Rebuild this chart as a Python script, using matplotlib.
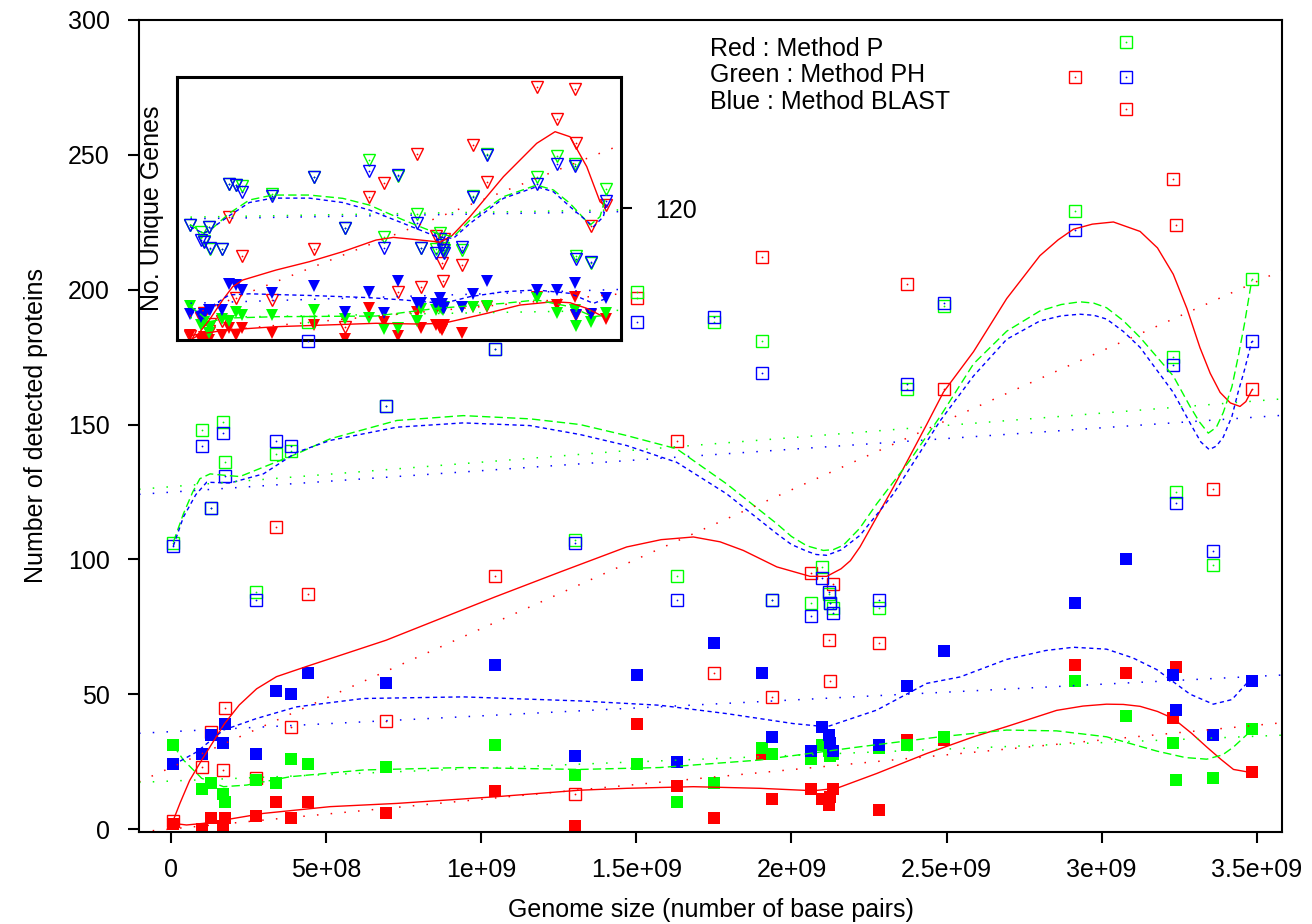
import matplotlib
matplotlib.use("Agg")
import matplotlib.pyplot as plt
import numpy as np

plt.rcParams["font.family"] = ["Liberation Sans", "DejaVu Sans"]
plt.rcParams["font.size"] = 18

GBP = 1e9
nan = np.nan

# genome sizes, in 1e9 base pairs
genome_size = [0.0075, 0.099, 0.128, 0.168, 0.174, 0.273, 0.337, 0.388, 0.440, 0.693,
               1.043, 1.302, 1.502, 1.632, 1.751, 1.905, 1.937, 2.062, 2.100, 2.120,
               2.124, 2.133, 2.281, 2.372, 2.492, 2.914, 3.079, 3.230, 3.240, 3.360, 3.484]

# main plot: detected proteins (open squares = upper set, filled squares = lower set)
p_open = [3, 23, 36, 22, 45, 19, 112, 38, 87, 40, 94, 13, 197, 144, 58, 212, 49, 95, nan, 70,
          55, 91, 69, 202, 163, 279, 267, 241, 224, 126, 163]
ph_open = [106, 148, 119, 151, 136, 88, 139, 140, 188, 157, 178, 107, 199, 94, 188, 181, 85, 84, 97, 87,
           84, 82, 82, 163, 194, 229, 292, 175, 125, 98, 204]
blast_open = [105, 142, 119, 147, 131, 85, 144, 142, 181, 157, 178, 106, 188, 85, 190, 169, 85, 79, 93, 88,
              84, 80, 85, 165, 195, 222, 279, 172, 121, 103, 181]
p_filled = [2, 0, 4, 1, 4, 5, 10, 4, 10, 6, 14, 1, 39, 16, 4, 28, 11, 15, 11, 9,
            12, 15, 7, 33, 33, 61, 58, 41, 60, 35, 21]
ph_filled = [31, 15, 17, 13, 10, 18, 17, 26, 24, 23, 31, 20, 24, 10, 17, 30, 28, 26, 31, 29,
             27, 28, 30, 31, 34, 55, 42, 32, 18, 19, 37]
blast_filled = [24, 28, 35, 32, 39, 28, 51, 50, 58, 54, 61, 27, 57, 25, 69, 58, 34, 29, 38, 35,
                32, 29, 31, 53, 66, 84, 100, 57, 44, 35, 55]

# smoothed curves
p_open_curve_x = [0.0075, 0.029, 0.06, 0.099, 0.172, 0.22, 0.276, 0.34, 0.44, 0.693, 1.043, 1.254, 1.469,
                  1.58, 1.684, 1.77, 1.845, 1.953, 2.06, 2.114, 2.16, 2.19, 2.221, 2.329, 2.436, 2.49, 2.587,
                  2.694, 2.801, 2.86, 2.909, 2.97, 3.038, 3.124, 3.18, 3.231, 3.275, 3.317, 3.35, 3.382,
                  3.415, 3.446, 3.465, 3.484]
p_open_curve_y = [3.3, 9.6, 18, 25.6, 39, 46, 52, 56.5, 60.4, 70, 86, 95.3, 104.6,
                  107.3, 108.3, 106.5, 103.3, 97.2, 93.7, 93.7, 96.5, 99.5, 104.6, 126.8, 150, 162, 177,
                  196.7, 212.6, 218.5, 222.4, 224.3, 225.1, 221.6, 215.5, 205.7, 193, 178.5, 169, 161.9,
                  158, 156.7, 158.5, 162.7]
ph_open_curve_x = [0.0075, 0.04, 0.07, 0.093, 0.126, 0.17, 0.222, 0.298, 0.405, 0.513, 0.728, 0.942, 1.157,
                   1.318, 1.469, 1.63, 1.791, 1.953, 2.0, 2.05, 2.103, 2.135, 2.167, 2.22, 2.275, 2.382,
                   2.479, 2.587, 2.694, 2.801, 2.87, 2.93, 2.975, 3.016, 3.07, 3.124, 3.231, 3.285, 3.315,
                   3.344, 3.37, 3.392, 3.42, 3.44, 3.46, 3.484]
ph_open_curve_y = [106.4, 116.9, 125, 129.9, 131.7, 131.2, 130.7, 134.2, 139.1, 144.7, 151.5, 153.3, 152.1,
                   150, 145.9, 141, 128, 113.2, 108.5, 105, 103.3, 103.6, 105.2, 111.5, 120.6, 136.7,
                   152.9, 172.5, 184.6, 192.1, 194.5, 195.5, 195, 193.3, 188.5, 182.3, 168, 156.7, 151,
                   146.8, 149, 154.4, 164, 175, 187, 203.5]
blast_open_curve_x = [0.0075, 0.04, 0.08, 0.115, 0.19, 0.298, 0.405, 0.513, 0.728, 0.942, 1.157, 1.318,
                      1.469, 1.63, 1.791, 1.953, 2.0, 2.05, 2.08, 2.114, 2.16, 2.221, 2.329, 2.479, 2.587,
                      2.694, 2.801, 2.87, 2.93, 2.975, 3.016, 3.07, 3.124, 3.231, 3.296, 3.32, 3.347, 3.37,
                      3.392, 3.42, 3.44, 3.46, 3.484]
blast_open_curve_y = [105, 115.7, 124, 128.6, 128.3, 131.7, 139.7, 144.1, 149, 150.6, 149.6, 146.3,
                      142.2, 136, 124.3, 109.5, 105.5, 103, 101.8, 101.5, 103.5, 108.9, 124.3, 151.3, 168,
                      181.6, 188.4, 190.3, 190.9, 190.5, 189.1, 184.5, 178.6, 161.9, 148.3, 143.5, 140.7, 142,
                      145.3, 153, 162, 170, 180.8]
p_filled_curve_x = [0.0075, 0.05, 0.104, 0.169, 0.298, 0.513, 0.728, 1.05, 1.318, 1.469, 1.684, 1.899,
                    2.071, 2.146, 2.275, 2.436, 2.587, 2.694, 2.855, 2.94, 3.016, 3.07, 3.124, 3.18, 3.231,
                    3.29, 3.339, 3.385, 3.425, 3.484]
p_filled_curve_y = [2.1, 1.5, 2.1, 3.3, 5.8, 8.3, 9.5, 12, 14.4, 15.1, 15.7, 15.1,
                    14.2, 15.1, 20.6, 28, 34.2, 38, 44, 45.6, 46.3, 46.2, 45.5, 43.6, 41, 35.5, 30.4, 25.8,
                    22.1, 20.9]
ph_filled_curve_x = [0.0075, 0.04, 0.099, 0.169, 0.244, 0.384, 0.62, 0.942, 1.318, 1.576, 1.899, 2.221,
                     2.479, 2.694, 2.855, 3.016, 3.178, 3.27, 3.339, 3.39, 3.425, 3.484]
ph_filled_curve_y = [31, 25.6, 18.8, 15.7, 16.3, 19.4, 21.9, 22.8, 22.1, 22.8, 25.6, 30.5,
                     34.2, 36.7, 36.4, 34.2, 28.9, 26.5, 25.9, 27.5, 30.4, 36.7]
blast_filled_curve_x = [0.0075, 0.083, 0.169, 0.276, 0.405, 0.62, 0.942, 1.318, 1.576, 1.791, 2.006, 2.114,
                        2.275, 2.436, 2.544, 2.694, 2.82, 2.909, 3.016, 3.1, 3.178, 3.285, 3.36, 3.42, 3.484]
blast_filled_curve_y = [23.8, 28.6, 36.7, 41, 45.3, 48.4, 49, 47.5, 45.9, 42.8, 39.1, 37.9,
                        44.1, 54, 56.4, 62.9, 66.2, 67.4, 66.7, 63.5, 59.1, 50, 46.3, 48, 56.1]

# straight trend lines (value at left and right edge of the plot)
trend_x = [-0.1032, 3.5815]
p_open_trend = [17.5, 207.2]
ph_open_trend = [126.0, 159.5]
blast_open_trend = [124.1, 153.4]
p_filled_trend = [-1.1, 39.4]
ph_filled_trend = [17.3, 34.8]
blast_filled_trend = [35.5, 57.1]

# inset: unique genes
p_open_u = [3.6, 20, 25, 8, 15, 17, 111.5, 38, 76, 36.4, 82.4, 12, 130, 143, 44, 169, 48.5, 95, nan, 70,
            54, 92, 68, 177, 144, 230, 201, 228, 179, 104, 123]
ph_open_u = [105, 98.5, 90, 103, 83, 83, 142, 141, 140, 133, 148, 102, 164, 94, 149, 114.5, 84, 83, 97, 86,
             84, 82, 82, 131, 169, 148.5, 167, 160, 76, 70, 137]
blast_open_u = [105, 91, 89, 103, 84, 83, 142, 141, 135, 131, 148.5, 101.5, 154, 84, 150, 106.6, 84, 79, 92, 86,
                82, 79, 85, 130, 168, 142, 160, 158.5, 74, 71, 126.6]
p_filled_u = [4.5, 0, 3, 0, 6, 4.5, 10.6, 4.5, 10.6, 6, 13.6, 1, 28.8, 16.7, 3.9, 25.8, 10.6, 13.6, 10.6, 9,
              12, 13.6, 6, 30, 30, 39.4, 31.8, 39.4, 22, 23, 18.8]
ph_filled_u = [31, 13.6, 16, 6, 12, 18.8, 17.6, 25.8, 22.7, 22.7, 27.3, 19, 20, 9.7, 10.6, 17.6, 27.9, 27.3, 28.8, 28,
               27, 29.7, 29.7, 29.7, 30.9, 37.9, 24.8, 27.3, 12.7, 16.7, 24.2]
blast_filled_u = [24, 21, 24, 27, 27, 27, 51, 50, 45.5, 43, 49, 25.8, 44, 24.8, 54, 33.3, 34, 33, 38, 33,
                  29, 29, 30.3, 41.8, 54, 45.5, 45.5, 51.5, 22.7, 23.6, 37.9]

p_open_u_curve_x = [0.0075, 0.058, 0.169, 0.281, 0.365, 0.448, 0.727, 1.006, 1.285, 1.564, 1.709, 1.932,
                    2.1, 2.2, 2.35, 2.63, 2.908, 3.062, 3.187, 3.327, 3.438, 3.494]
p_open_u_curve_y = [0, 3, 18.2, 36.4, 48.5, 54.5, 63.6, 71.2, 80.3, 90.9, 93.3, 90.9,
                    89, 95, 112.1, 148.5, 178.8, 189.4, 184.8, 157.6, 125.7, 121.2]
ph_open_u_curve_x = [0.0075, 0.12, 0.169, 0.336, 0.504, 0.7, 1.006, 1.285, 1.508, 1.793, 2.072, 2.211,
                     2.35, 2.63, 2.908, 3.048, 3.187, 3.355, 3.438, 3.494]
ph_open_u_curve_y = [105, 97, 99, 115.2, 127.3, 131.8, 131.8, 128.8, 122.7, 109.1, 97, 93.9,
                     109.1, 130.3, 140.9, 136.4, 124.2, 104.5, 112.1, 133.3]
blast_open_u_curve_x = [0.0075, 0.12, 0.169, 0.336, 0.504, 0.7, 1.006, 1.285, 1.508, 1.793, 2.072, 2.211,
                        2.35, 2.63, 2.908, 3.048, 3.187, 3.383, 3.466, 3.494]
blast_open_u_curve_y = [103, 97, 100, 113, 125, 129, 129, 125, 118.2, 106, 93.9, 92.4,
                        106, 128.8, 139.4, 134.8, 121.2, 103, 112.1, 125.7]
p_filled_u_curve_x = [0.0075, 0.309, 0.727, 1.564, 1.932, 2.127, 2.49, 2.769, 3.048, 3.187, 3.327, 3.466]
p_filled_u_curve_y = [4, 9.1, 12.1, 15.2, 14.5, 15.2, 24.2, 31.8, 34.8, 33.9, 28.8, 21.2]
ph_filled_u_curve_x = [0.0075, 0.169, 0.336, 0.727, 1.564, 2.072, 2.63, 2.908, 3.187, 3.383, 3.494]
ph_filled_u_curve_y = [31, 16.7, 20, 21.2, 21.8, 28.8, 33.3, 36.4, 30.3, 21.2, 22.7]
blast_filled_u_curve_x = [0.0075, 0.169, 0.336, 0.504, 1.006, 1.508, 1.793, 2.127, 2.35, 2.63, 2.908, 3.187,
                          3.383, 3.494]
blast_filled_u_curve_y = [24, 29.4, 41, 42, 40.5, 38.5, 36.4, 33.3, 39.4, 43.9, 45.5, 42.4,
                          33.3, 37.9]

trend_u_x = [-0.104, 3.611]
p_open_u_trend = [17.2, 177.3]
ph_open_u_trend = [111.5, 118.3]
blast_open_u_trend = [110.0, 116.7]
p_filled_u_trend = [5, 42]
ph_filled_u_trend = [20, 27]
blast_filled_u_trend = [33, 46]

x_ticks = [0, 0.5, 1.0, 1.5, 2.0, 2.5, 3.0, 3.5]
x_tick_labels = ["0", "5e+08", "1e+09", "1.5e+09", "2e+09", "2.5e+09", "3e+09", "3.5e+09"]
y_ticks = [0, 50, 100, 150, 200, 250, 300]

RED, GREEN, BLUE = "#ff0000", "#00ff00", "#0000ff"
styles = {
    RED: "-",
    GREEN: (0, (6, 3)),
    BLUE: (0, (3, 2.5)),
}
DOTTED = (0, (1, 8))

fig = plt.figure(figsize=(13.12, 9.24), dpi=100)
ax = fig.add_axes([0.10595, 0.09957, 0.87119, 0.87879])
ins = fig.add_axes([0.13468, 0.63203, 0.33841, 0.28496])
# main axes on top (transparent) so its few points over the inset stay visible
ax.set_zorder(2)
ins.set_zorder(1)
ax.patch.set_alpha(0)

gx = np.array(genome_size) * GBP


def draw_set(a, open_sets, filled_sets, curves, trends, tx, marker, ms):
    for col, vals in open_sets:
        a.plot(gx, vals, ls="none", marker=marker, ms=ms, mfc="none", mec=col, mew=1.0)
        a.plot(gx, vals, ls="none", marker="o", ms=1.3, mfc=col, mec=col, mew=0)
    for col, vals in filled_sets:
        a.plot(gx, vals, ls="none", marker=marker, ms=ms + 0.6, mfc=col, mec=col, mew=0)
    for col, cx, cy in curves:
        a.plot(np.array(cx) * GBP, cy, color=col, lw=1.0, ls=styles[col])
    for col, ty in trends:
        a.plot(np.array(tx) * GBP, ty, color=col, lw=1.1, ls=DOTTED)


draw_set(ax,
         [(RED, p_open), (GREEN, ph_open), (BLUE, blast_open)],
         [(RED, p_filled), (GREEN, ph_filled), (BLUE, blast_filled)],
         [(RED, p_open_curve_x, p_open_curve_y), (GREEN, ph_open_curve_x, ph_open_curve_y),
          (BLUE, blast_open_curve_x, blast_open_curve_y),
          (RED, p_filled_curve_x, p_filled_curve_y), (GREEN, ph_filled_curve_x, ph_filled_curve_y),
          (BLUE, blast_filled_curve_x, blast_filled_curve_y)],
         [(RED, p_open_trend), (GREEN, ph_open_trend), (BLUE, blast_open_trend),
          (RED, p_filled_trend), (GREEN, ph_filled_trend), (BLUE, blast_filled_trend)],
         trend_x, "s", 8.0)

ax.set_xlim(-0.1032 * GBP, 3.5815 * GBP)
ax.set_ylim(-1.1, 300)
ax.set_xticks(np.array(x_ticks) * GBP)
ax.set_xticklabels(x_tick_labels)
ax.set_yticks(y_ticks)
ax.tick_params(direction="out", length=8, width=1.5, labelsize=18)
ax.tick_params(axis="x", pad=11)
ax.tick_params(axis="y", pad=13)
for s in ax.spines.values():
    s.set_linewidth(1.5)
ax.set_xlabel("Genome size (number of base pairs)", fontsize=18, labelpad=11)
ax.set_ylabel("Number of detected proteins", fontsize=18, labelpad=14)

fig.text(710 / 1312, 1 - 56 / 924, "Red : Method P", fontsize=18, va="baseline")
fig.text(710 / 1312, 1 - 82.5 / 924, "Green : Method PH", fontsize=18, va="baseline")
fig.text(710 / 1312, 1 - 109 / 924, "Blue : Method BLAST", fontsize=18, va="baseline")

# inset
ins.set_facecolor("white")
draw_set(ins,
         [(RED, p_open_u), (GREEN, ph_open_u), (BLUE, blast_open_u)],
         [(RED, p_filled_u), (GREEN, ph_filled_u), (BLUE, blast_filled_u)],
         [(RED, p_open_u_curve_x, p_open_u_curve_y), (GREEN, ph_open_u_curve_x, ph_open_u_curve_y),
          (BLUE, blast_open_u_curve_x, blast_open_u_curve_y),
          (RED, p_filled_u_curve_x, p_filled_u_curve_y), (GREEN, ph_filled_u_curve_x, ph_filled_u_curve_y),
          (BLUE, blast_filled_u_curve_x, blast_filled_u_curve_y)],
         [(RED, p_open_u_trend), (GREEN, ph_open_u_trend), (BLUE, blast_open_u_trend),
          (RED, p_filled_u_trend), (GREEN, ph_filled_u_trend), (BLUE, blast_filled_u_trend)],
         trend_u_x, "v", 8.6)
ins.set_xlim(-0.104 * GBP, 3.611 * GBP)
ins.set_ylim(0, 239.4)
ins.set_xticks([])
ins.yaxis.tick_right()
ins.set_yticks([120])
ins.tick_params(axis="y", direction="out", length=8, width=1.5, pad=17, labelsize=18)
for s in ins.spines.values():
    s.set_linewidth(2.2)
fig.text(152.5 / 1312, 1 - 208 / 924, "No. Unique Genes", fontsize=18, rotation=90,
         ha="center", va="center")

fig.savefig("out.png", dpi=100)
